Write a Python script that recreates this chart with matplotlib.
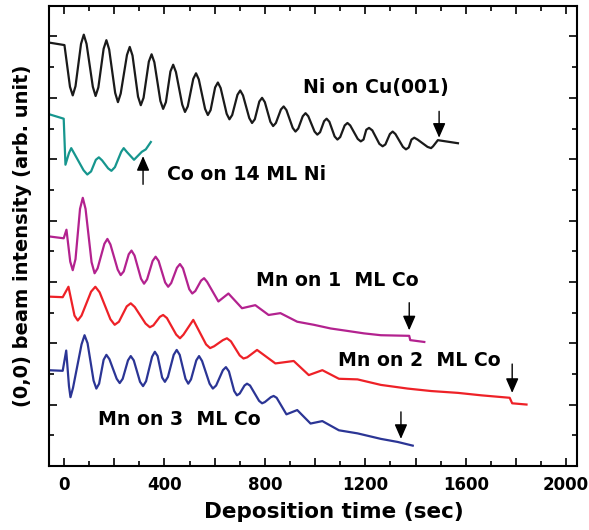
import matplotlib
matplotlib.use("Agg")
import matplotlib.pyplot as plt
from matplotlib.ticker import MultipleLocator, FuncFormatter

plt.rcParams['font.family'] = ['DejaVu Sans']
plt.rcParams['font.weight'] = 'bold'
plt.rcParams['axes.labelweight'] = 'bold'

# Ni on Cu(001)
ni_t = [-58, 2, 24, 35, 46, 68, 79, 90, 115, 126, 137, 158, 169, 180, 204, 215, 226,
        251, 262, 273, 295, 306, 317, 338, 349, 360, 384, 395, 406, 424, 435, 446,
        471, 482, 493, 515, 526, 537, 562, 573, 584, 602, 613, 624, 648, 659, 670,
        691, 702, 713, 738, 749, 760, 778, 789, 800, 822, 833, 844, 864, 875, 886,
        911, 922, 933, 951, 962, 973, 998, 1009, 1020, 1036, 1046, 1057, 1078, 1089,
        1100, 1118, 1129, 1140, 1170, 1182, 1193, 1204, 1215, 1228, 1256, 1269, 1280,
        1298, 1309, 1320, 1350, 1362, 1373, 1384, 1395, 1408, 1448, 1462, 1470, 1489, 1569]
ni_i = [6.90, 6.86, 6.18, 6.04, 6.19, 6.88, 7.03, 6.88, 6.18, 6.03, 6.17, 6.80, 6.94,
        6.79, 6.08, 5.93, 6.07, 6.70, 6.83, 6.69, 6.02, 5.88, 6.00, 6.59, 6.71, 6.58,
        5.95, 5.82, 5.93, 6.43, 6.54, 6.42, 5.89, 5.77, 5.86, 6.31, 6.40, 6.30, 5.82,
        5.72, 5.80, 6.17, 6.25, 6.16, 5.74, 5.65, 5.72, 6.05, 6.12, 6.04, 5.67, 5.59,
        5.65, 5.94, 6.00, 5.93, 5.61, 5.54, 5.59, 5.81, 5.86, 5.80, 5.51, 5.45, 5.50,
        5.70, 5.75, 5.70, 5.45, 5.40, 5.44, 5.62, 5.66, 5.61, 5.37, 5.32, 5.36, 5.55,
        5.59, 5.55, 5.33, 5.29, 5.32, 5.48, 5.51, 5.47, 5.25, 5.21, 5.24, 5.41, 5.45,
        5.41, 5.20, 5.16, 5.19, 5.32, 5.35, 5.32, 5.20, 5.18, 5.21, 5.31, 5.26]

# Co on 14 ML Ni
co_t = [-65, -1, 6, 20, 29, 40, 78, 93, 108, 127, 139, 152, 176, 189, 203, 228, 238,
        250, 279, 310, 326, 346]
co_i = [5.74, 5.66, 4.91, 5.10, 5.18, 5.10, 4.82, 4.75, 4.80, 4.99, 5.03, 4.98, 4.85,
        4.81, 4.87, 5.12, 5.18, 5.12, 4.99, 5.12, 5.16, 5.28]

# Mn on 1 ML Co
mn1_t = [-58, -1, 10, 25, 35, 46, 64, 75, 86, 110, 122, 134, 161, 173, 185, 214, 226,
         238, 258, 269, 281, 307, 319, 331, 353, 365, 377, 403, 415, 427, 450, 462, 474,
         499, 511, 523, 546, 558, 570, 615, 655, 709, 762, 815, 862, 929, 995, 1062,
         1129, 1195, 1262, 1375, 1379, 1435]
mn1_i = [3.74, 3.71, 3.85, 3.33, 3.19, 3.37, 4.19, 4.37, 4.19, 3.32, 3.14, 3.22, 3.62,
         3.70, 3.61, 3.20, 3.11, 3.17, 3.45, 3.51, 3.43, 3.05, 2.97, 3.04, 3.34, 3.41,
         3.34, 2.99, 2.92, 2.98, 3.23, 3.29, 3.22, 2.88, 2.81, 2.85, 3.02, 3.06, 3.00,
         2.68, 2.81, 2.57, 2.62, 2.46, 2.49, 2.35, 2.30, 2.24, 2.20, 2.16, 2.13, 2.12,
         2.05, 2.02]

# Mn on 2 ML Co
mn2_t = [-65, -5, 18, 42, 55, 70, 108, 125, 142, 185, 202, 219, 250, 266, 282, 325,
         342, 356, 382, 395, 410, 447, 462, 476, 515, 566, 582, 598, 633, 649, 665, 700,
         715, 730, 769, 842, 915, 975, 1029, 1095, 1169, 1262, 1369, 1462, 1569, 1662,
         1775, 1785, 1842]
mn2_i = [2.76, 2.75, 2.92, 2.45, 2.37, 2.45, 2.84, 2.92, 2.83, 2.39, 2.30, 2.35, 2.60,
         2.65, 2.59, 2.32, 2.26, 2.29, 2.43, 2.46, 2.41, 2.14, 2.08, 2.14, 2.38, 1.98,
         1.92, 1.95, 2.05, 2.08, 2.03, 1.80, 1.75, 1.77, 1.89, 1.67, 1.71, 1.48, 1.56,
         1.42, 1.41, 1.32, 1.26, 1.22, 1.19, 1.15, 1.11, 1.02, 1.00]

# Mn on 3 ML Co
mn3_t = [-65, -5, 9, 20, 26, 36, 70, 82, 94, 118, 129, 140, 158, 169, 181, 210, 222,
         234, 255, 266, 278, 303, 315, 327, 351, 362, 373, 391, 402, 414, 437, 449, 461,
         484, 495, 506, 527, 538, 550, 580, 593, 606, 633, 645, 657, 678, 689, 700, 719,
         729, 741, 777, 789, 800, 824, 835, 847, 886, 929, 982, 1029, 1095, 1169, 1262,
         1329, 1389]
mn3_i = [1.56, 1.55, 1.88, 1.30, 1.12, 1.27, 1.98, 2.13, 2.00, 1.39, 1.26, 1.34, 1.73,
         1.81, 1.74, 1.42, 1.35, 1.42, 1.72, 1.79, 1.72, 1.37, 1.30, 1.38, 1.78, 1.86,
         1.79, 1.44, 1.37, 1.45, 1.81, 1.89, 1.81, 1.42, 1.34, 1.41, 1.72, 1.79, 1.71,
         1.34, 1.26, 1.31, 1.56, 1.61, 1.54, 1.22, 1.15, 1.18, 1.31, 1.34, 1.31, 1.06,
         1.02, 1.04, 1.12, 1.14, 1.11, 0.84, 0.91, 0.69, 0.73, 0.58, 0.53, 0.44, 0.39,
         0.33]

# arrows: (time, tail intensity, tip intensity)
arrows = [(1494, 5.78, 5.35), (315, 4.59, 5.05), (1375, 2.66, 2.21),
          (1785, 1.66, 1.19), (1342, 0.88, 0.44)]

fig = plt.figure(figsize=(5.89, 5.30), dpi=100)
ax = fig.add_axes([0.083, 0.121, 0.897, 0.868])

lw = 1.6
ax.plot(ni_t, ni_i, color='#1a1a1a', lw=lw)
ax.plot(co_t, co_i, color='#16968e', lw=lw)
ax.plot(mn1_t, mn1_i, color='#b3228f', lw=lw)
ax.plot(mn2_t, mn2_i, color='#ee2127', lw=lw)
ax.plot(mn3_t, mn3_i, color='#2b3595', lw=lw)

for t, a, b in arrows:
    ax.annotate('', xy=(t, b), xytext=(t, a),
                arrowprops=dict(arrowstyle='-|>,head_length=0.8,head_width=0.35',
                                color='black', lw=1.0, mutation_scale=11,
                                shrinkA=0, shrinkB=0))

fs = 13.6
ax.text(950, 6.17, 'Ni on Cu(001)', fontsize=fs, va='center')
ax.text(410, 4.75, 'Co on 14 ML Ni', fontsize=fs, va='center')
ax.text(766, 3.03, 'Mn on 1  ML Co', fontsize=fs, va='center')
ax.text(1090, 1.72, 'Mn on 2  ML Co', fontsize=fs, va='center')
ax.text(134, 0.76, 'Mn on 3  ML Co', fontsize=fs, va='center')

ax.set_xlim(-60, 2044)
ax.set_ylim(0, 7.5)
ax.xaxis.set_major_locator(MultipleLocator(200))
ax.xaxis.set_minor_locator(MultipleLocator(100))
ax.xaxis.set_major_formatter(FuncFormatter(lambda v, p: f'{int(round(v))}' if round(v) % 400 == 0 else ''))
ax.yaxis.set_major_locator(MultipleLocator(1))
ax.yaxis.set_minor_locator(MultipleLocator(0.5))
ax.set_yticklabels([])
ax.tick_params(which='both', direction='in', top=True, right=True, width=1.2)
ax.tick_params(which='major', length=6, labelsize=12, pad=7)
ax.tick_params(which='minor', length=3.5)
for lab in ax.get_xticklabels():
    lab.set_fontweight('bold')
for s in ax.spines.values():
    s.set_linewidth(1.5)

ax.set_xlabel('Deposition time (sec)', fontsize=15.5)
ax.xaxis.set_label_coords(0.539, -0.078)
ax.set_ylabel('(0,0) beam intensity (arb. unit)', fontsize=14, labelpad=5)

fig.savefig('out.png', dpi=100)
